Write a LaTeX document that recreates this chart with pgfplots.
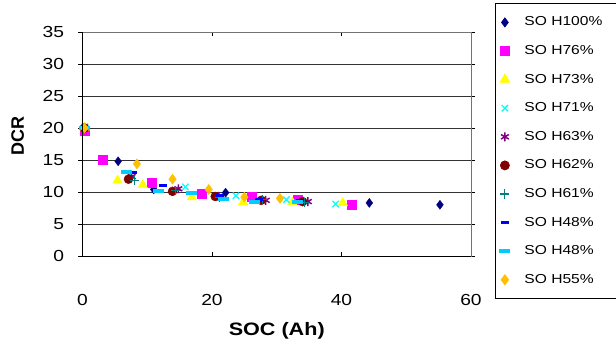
\documentclass[border=0pt]{standalone}
\usepackage{pgfplots}
\pgfplotsset{compat=1.18}
\usepackage{fontspec}
\setmainfont{Liberation Sans}[FakeStretch=1.2]
\newfontfamily\plainfont{Liberation Sans}
\definecolor{cNavy}{RGB}{0,0,128}
\definecolor{cMag}{RGB}{255,0,255}
\definecolor{cYel}{RGB}{255,255,0}
\definecolor{cCyan}{RGB}{0,255,255}
\definecolor{cPur}{RGB}{128,0,128}
\definecolor{cDRed}{RGB}{128,0,0}
\definecolor{cTeal}{RGB}{0,128,128}
\definecolor{cBlue}{RGB}{0,0,255}
\definecolor{cSky}{RGB}{0,204,255}
\definecolor{cOra}{RGB}{255,192,0}
\begin{document}
\begin{tikzpicture}
\path[use as bounding box] (0,0) rectangle (616bp,341bp);
\begin{axis}[
  at={(82.5bp,85bp)}, anchor=south west,
  scale only axis, width=388.5bp, height=224bp,
  xmin=0, xmax=60, ymin=0, ymax=35,
  xtick={0,20,40,60}, ytick={0,5,...,35},
  ymajorgrids, grid style={black!80, line width=0.8pt},
  axis line style={black!55, line width=0.8pt},
  tick style={black, line width=0.8pt},
  xtick align=inside, ytick align=outside,
  major tick length=4bp,
  /pgf/number format/assume math mode=true,
  tick label style={font=\fontsize{16bp}{18bp}\selectfont},
  xticklabel style={yshift=-35bp},
  yticklabel style={xshift=-11bp},
  xlabel={\textbf{SOC (Ah)}},
  ylabel={\plainfont\bfseries DCR},
  label style={font=\fontsize{18bp}{20bp}\selectfont},
  xlabel style={at={(axis description cs:0.5,-0.335)}, anchor=center},
  ylabel style={at={(axis description cs:-0.167,0.536)}, anchor=center},
  legend cell align=left,
  legend style={at={(1,1)}, anchor=north west, xshift=24bp, yshift=29bp,
    draw=black, line width=0.8pt, inner xsep=4bp, inner ysep=9.5bp,
    font=\fontsize{13bp}{15bp}\selectfont, row sep=9.6bp, column sep=12bp,
    nodes={text height=10bp, text depth=3bp, inner ysep=3bp}},
  after end axis/.code={
    \draw[black, line width=1pt] (rel axis cs:0,1) -- (rel axis cs:0,0) -- (rel axis cs:1,0);
  },
]
\addplot[only marks, mark=diamond*, mark size=4.5bp, color=cNavy] coordinates {
 (0.3,20) (5.5,14.8) (11.0,10.4) (22.1,9.9) (44.3,8.3) (55.2,8.0)};
\addlegendentry{SO H100\%\kern30bp}
\addplot[only marks, mark=square*, mark size=4.5bp, color=cMag] coordinates {
 (0.3,19.6) (3.1,15.0) (10.7,11.4) (18.4,9.8) (26.1,9.2) (33.2,8.8) (41.5,8.0)};
\addlegendentry{SO H76\%}
\addplot[only marks, mark=triangle*, mark size=5.5bp, color=cYel] coordinates {
 (0.3,20) (5.4,11.8) (9.3,11.1) (16.9,9.2) (24.8,8.4) (32.4,8.4) (40.2,8.3)};
\addlegendentry{SO H73\%}
\addplot[only marks, mark=x, mark size=4.5bp, color=cCyan, line width=1.3pt] coordinates {
 (0.4,20.2) (7.4,12.8) (15.9,10.8) (23.7,9.4) (31.5,8.8) (39.1,8.1)};
\addlegendentry{SO H71\%}
\addplot[only marks, mark=asterisk, mark size=4.5bp, color=cPur, line width=1.5pt] coordinates {
 (0.3,20) (7.6,12.4) (14.8,10.5) (21.0,9.3) (28.3,8.7) (34.8,8.5)};
\addlegendentry{SO H63\%}
\addplot[only marks, mark=*, mark size=4.5bp, color=cDRed] coordinates {
 (0.3,20) (7.1,12.0) (13.9,10.1) (20.5,9.3) (27.6,8.7) (34.0,8.5)};
\addlegendentry{SO H62\%}
\addplot[only marks, mark=+, mark size=4.5bp, color=cTeal, line width=1.2pt] coordinates {
 (0.3,20) (8.0,11.8) (14.4,10.2) (21.2,9.2) (27.8,8.8) (34.3,8.4)};
\addlegendentry{SO H61\%}
\addplot[only marks, mark=-, mark size=4bp, color=cBlue, line width=3pt] coordinates {
 (0.3,20) (7.8,13.0) (12.4,11.0) (21.3,9.5) (27.3,8.8) (33.6,8.6)};
\addlegendentry{SO H48\%}
\addplot[only marks, mark=-, mark size=5.5bp, color=cSky, line width=4pt] coordinates {
 (0.3,20) (6.8,13.2) (11.8,10.1) (16.9,9.8) (21.7,8.9) (26.6,8.5) (33.2,8.5)};
\addlegendentry{SO H48\%}
\addplot[only marks, mark=diamond*, mark size=5bp, color=cOra] coordinates {
 (0.3,20) (8.4,14.4) (13.9,12.0) (19.5,10.4) (25.0,9.2) (30.5,9.0)};
\addlegendentry{SO H55\%}
\end{axis}
\end{tikzpicture}
\end{document}
